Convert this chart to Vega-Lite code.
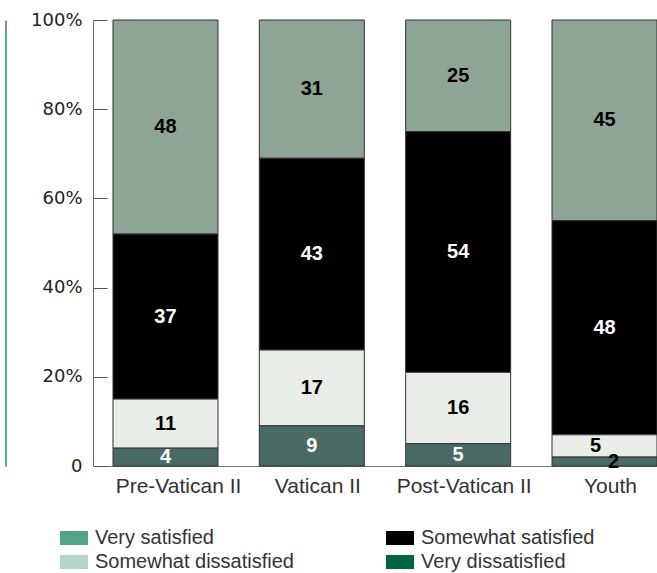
{
  "$schema": "https://vega.github.io/schema/vega-lite/v6.json",
  "width": 564,
  "height": 446,
  "autosize": {"type": "none"},
  "padding": {"left": 93, "top": 20, "right": 0, "bottom": 107},
  "background": "white",
  "config": {"view": {"stroke": null}},
  "datasets": {
    "levels": [
      {"level": "Very dissatisfied", "rank": 1},
      {"level": "Somewhat dissatisfied", "rank": 2},
      {"level": "Somewhat satisfied", "rank": 3},
      {"level": "Very satisfied", "rank": 4}
    ],
    "survey": [
      {"cohort": "Pre-Vatican II", "level": "Very satisfied", "pct": 48},
      {"cohort": "Pre-Vatican II", "level": "Somewhat satisfied", "pct": 37},
      {"cohort": "Pre-Vatican II", "level": "Somewhat dissatisfied", "pct": 11},
      {"cohort": "Pre-Vatican II", "level": "Very dissatisfied", "pct": 4},
      {"cohort": "Vatican II", "level": "Very satisfied", "pct": 31},
      {"cohort": "Vatican II", "level": "Somewhat satisfied", "pct": 43},
      {"cohort": "Vatican II", "level": "Somewhat dissatisfied", "pct": 17},
      {"cohort": "Vatican II", "level": "Very dissatisfied", "pct": 9},
      {"cohort": "Post-Vatican II", "level": "Very satisfied", "pct": 25},
      {"cohort": "Post-Vatican II", "level": "Somewhat satisfied", "pct": 54},
      {"cohort": "Post-Vatican II", "level": "Somewhat dissatisfied", "pct": 16},
      {"cohort": "Post-Vatican II", "level": "Very dissatisfied", "pct": 5},
      {"cohort": "Youth", "level": "Very satisfied", "pct": 45},
      {"cohort": "Youth", "level": "Somewhat satisfied", "pct": 48},
      {"cohort": "Youth", "level": "Somewhat dissatisfied", "pct": 5},
      {"cohort": "Youth", "level": "Very dissatisfied", "pct": 2}
    ]
  },
  "data": {"name": "survey"},
  "transform": [
    {"lookup": "level", "from": {"data": {"name": "levels"}, "key": "level", "fields": ["rank"]}}
  ],
  "layer": [
    {
      "mark": {"type": "bar", "stroke": "#333333", "strokeWidth": 1},
      "encoding": {
        "x": {
          "field": "cohort",
          "type": "nominal",
          "sort": ["Pre-Vatican II", "Vatican II", "Post-Vatican II", "Youth"],
          "scale": {"paddingInner": 0.2825, "paddingOuter": 0.0683, "align": 1},
          "axis": {
            "title": null,
            "ticks": false,
            "labelAngle": 0,
            "labelFont": "Liberation Sans",
            "labelFontSize": 21,
            "labelColor": "#333333",
            "labelPadding": 9,
            "labelOffset": {"condition": {"test": "datum.value === 'Pre-Vatican II'", "value": 13}, "value": 6},
            "domainColor": "#777777",
            "domainWidth": 1
          }
        },
        "y": {
          "field": "pct",
          "type": "quantitative",
          "stack": "zero",
          "scale": {"domain": [0, 100], "nice": false},
          "axis": {
            "title": null,
            "orient": "left",
            "grid": false,
            "values": [0, 20, 40, 60, 80, 100],
            "labelExpr": "datum.value === 0 ? '0' : datum.value + '%'",
            "labelFont": "DejaVu Sans",
            "labelFontSize": 18,
            "labelColor": "#222222",
            "tickSize": -14,
            "tickColor": "#555555",
            "labelPadding": 25,
            "domainColor": "#666666"
          }
        },
        "order": {"field": "rank", "type": "quantitative", "sort": "ascending"},
        "color": {
          "field": "level",
          "type": "nominal",
          "scale": {
            "domain": ["Very dissatisfied", "Somewhat dissatisfied", "Somewhat satisfied", "Very satisfied"],
            "range": ["#4a6b65", "#e8ede8", "#000000", "#8ea596"]
          },
          "legend": null
        }
      }
    },
    {
      "mark": {"type": "text", "font": "Liberation Sans", "fontWeight": "bold", "fontSize": 20, "baseline": "middle"},
      "encoding": {
        "x": {
          "field": "cohort",
          "type": "nominal",
          "sort": ["Pre-Vatican II", "Vatican II", "Post-Vatican II", "Youth"]
        },
        "y": {
          "field": "pct",
          "type": "quantitative",
          "stack": "zero",
          "bandPosition": 0.5,
          "axis": null
        },
        "order": {"field": "rank", "type": "quantitative", "sort": "ascending"},
        "detail": {"field": "level", "type": "nominal"},
        "text": {
          "condition": {"test": "datum.cohort === 'Youth' && datum.rank <= 2", "value": ""},
          "field": "pct",
          "type": "quantitative"
        },
        "color": {
          "field": "level",
          "type": "nominal",
          "scale": {
            "domain": ["Very dissatisfied", "Somewhat dissatisfied", "Somewhat satisfied", "Very satisfied"],
            "range": ["#ffffff", "#000000", "#ffffff", "#000000"]
          },
          "legend": null
        }
      }
    },
    {
      "transform": [{"filter": "datum.cohort === 'Youth' && datum.rank <= 2"}],
      "mark": {"type": "text", "font": "Liberation Sans", "fontWeight": "bold", "fontSize": 20, "baseline": "middle", "color": "#000000", "dx": -9},
      "encoding": {
        "x": {
          "field": "cohort",
          "type": "nominal",
          "sort": ["Pre-Vatican II", "Vatican II", "Post-Vatican II", "Youth"]
        },
        "y": {
          "field": "pct",
          "type": "quantitative",
          "stack": "zero",
          "bandPosition": 0.5,
          "axis": null
        },
        "order": {"field": "rank", "type": "quantitative", "sort": "ascending"},
        "detail": {"field": "level", "type": "nominal"},
        "text": {
          "condition": {"test": "datum.rank === 1", "value": ""},
          "field": "pct",
          "type": "quantitative"
        }
      }
    },
    {
      "transform": [{"filter": "datum.cohort === 'Youth' && datum.rank === 1"}],
      "mark": {"type": "text", "font": "Liberation Sans", "fontWeight": "bold", "fontSize": 20, "baseline": "middle", "color": "#000000", "dx": 9},
      "encoding": {
        "x": {
          "field": "cohort",
          "type": "nominal",
          "sort": ["Pre-Vatican II", "Vatican II", "Post-Vatican II", "Youth"]
        },
        "y": {
          "field": "pct",
          "type": "quantitative",
          "stack": "zero",
          "bandPosition": 0.5,
          "axis": null
        },
        "detail": {"field": "level", "type": "nominal"},
        "text": {"field": "pct", "type": "quantitative"}
      }
    },
    {
      "transform": [{"filter": "false"}],
      "mark": {"type": "square"},
      "encoding": {
        "y": {
          "field": "pct",
          "type": "quantitative",
          "axis": {
            "title": null,
            "orient": "left",
            "labels": false,
            "ticks": false,
            "grid": false,
            "offset": 87.5,
            "domainColor": "#2e8b5c",
            "domainWidth": 1.5
          }
        },
        "color": {
          "field": "level",
          "type": "nominal",
          "scale": {
            "domain": ["Very satisfied", "Somewhat satisfied", "Somewhat dissatisfied", "Very dissatisfied"],
            "range": ["#52a585", "#000000", "#b5d5c8", "#006640"]
          },
          "legend": {
            "title": null,
            "orient": "none",
            "legendX": -33,
            "legendY": 504,
            "direction": "horizontal",
            "columns": 2,
            "columnPadding": 92,
            "rowPadding": -3,
            "padding": 0,
            "symbolType": "M-1,-0.5H1V0.5H-1Z",
            "symbolSize": 784,
            "symbolStrokeWidth": 0,
            "symbolOpacity": 1,
            "labelFont": "Liberation Sans",
            "labelFontSize": 20,
            "labelColor": "#333333",
            "labelOffset": 7,
            "labelLimit": 400
          }
        }
      }
    }
  ],
  "resolve": {
    "scale": {"color": "independent"},
    "axis": {"y": "independent"}
  }
}
